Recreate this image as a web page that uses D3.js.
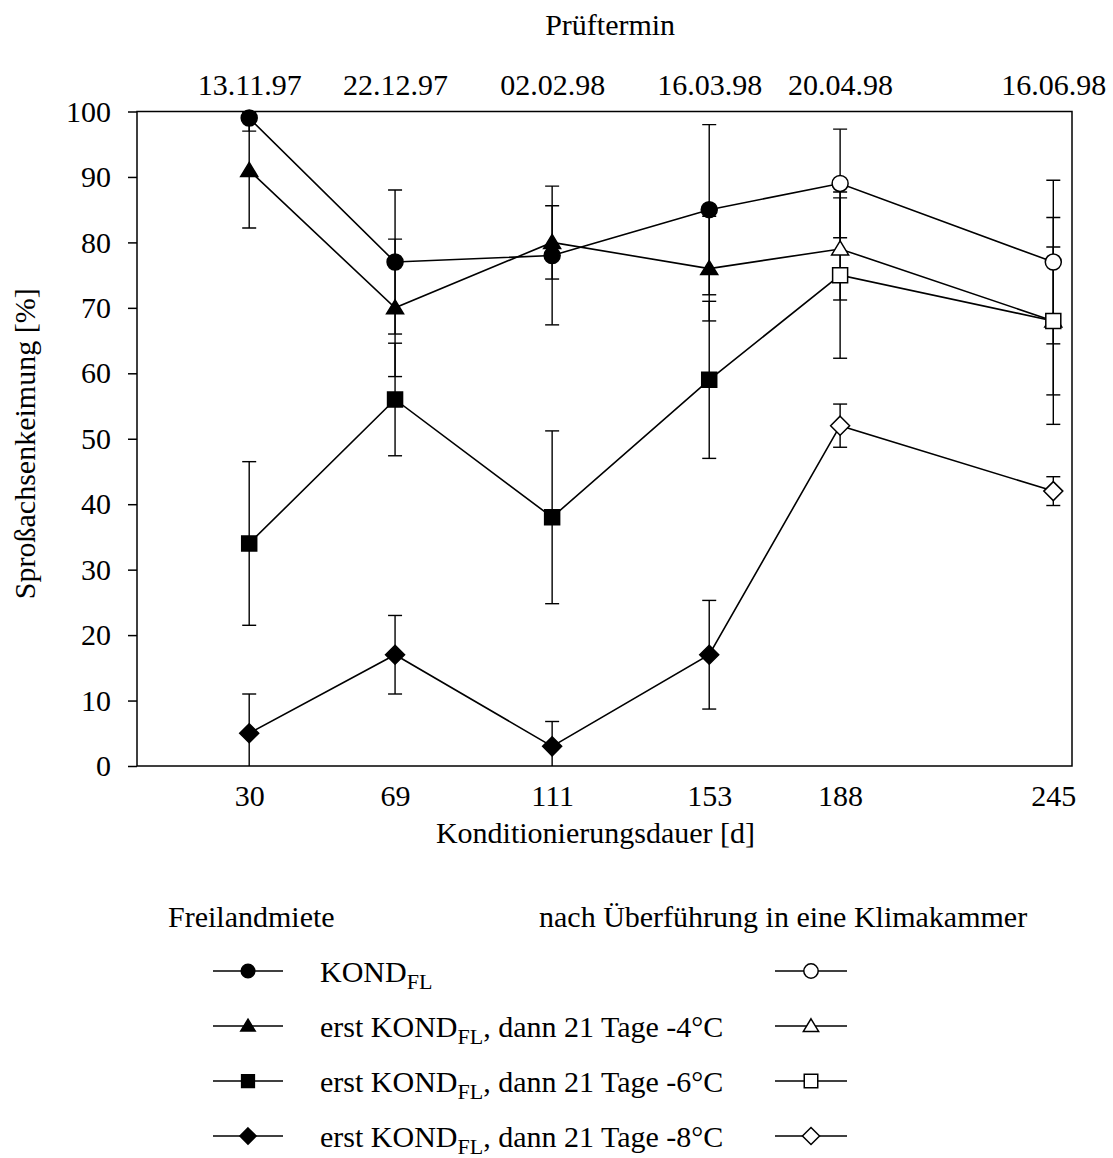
<!DOCTYPE html>
<html>
<head>
<meta charset="utf-8">
<script src="https://cdn.jsdelivr.net/npm/d3@7"></script>
<style>
  body { margin: 0; background: #fff; }
  svg text { font-family: "Liberation Serif", "Times New Roman", serif; fill: #000; }
</style>
</head>
<body>
<svg id="chart" width="1113" height="1158"></svg>
<script>
// Konditionierungsdauer [d] and matching Prüftermin
const days = [30, 69, 111, 153, 188, 245];
const dates = ["13.11.97", "22.12.97", "02.02.98", "16.03.98", "20.04.98", "16.06.98"];
// where the sample was kept at each date
const phase = ["Freiland", "Freiland", "Freiland", "Freiland", "Klimakammer", "Klimakammer"];

const kondFL = [99, 77, 78, 85, 89, 77];
const kondFLErr = [2, 11, 10.6, 13, 8.3, 12.5];
const minus4 = [91, 70, 80, 76, 79, 68];
const minus4Err = [8.8, 10.5, 5.6, 8, 7.8, 11.3];
const minus6 = [34, 56, 38, 59, 75, 68];
const minus6Err = [12.5, 8.6, 13.2, 12, 12.7, 15.8];
const minus8 = [5, 17, 3, 17, 52, 42];
const minus8Err = [6, 6, 3.8, 8.3, 3.3, 2.2];

const yTicks = [0, 10, 20, 30, 40, 50, 60, 70, 80, 90, 100];

const series = [
    { label: "KOND", shape: "circle", values: kondFL, err: kondFLErr, temp: null },
    { label: "erst KOND", shape: "triangle", values: minus4, err: minus4Err, temp: "-4°C" },
    { label: "erst KOND", shape: "square", values: minus6, err: minus6Err, temp: "-6°C" },
    { label: "erst KOND", shape: "diamond", values: minus8, err: minus8Err, temp: "-8°C" },
];

const svg = d3.select("#chart");
const margin = { top: 111.5, right: 41, bottom: 392, left: 137 };
const width = 1113 - margin.left - margin.right;
const height = 1158 - margin.top - margin.bottom;

const x = d3.scaleLinear().domain([0, 250]).range([0, width]);
const y = d3.scaleLinear().domain([0, 100]).range([height, 0]);

const g = svg.append("g").attr("transform", `translate(${margin.left},${margin.top})`);

g.append("clipPath").attr("id", "plotclip")
    .append("rect").attr("width", width).attr("height", height);

// marker path, centred at 0,0
const markerPath = (shape, s) => {
    const p = d3.path();
    if (shape === "circle") {
        p.arc(0, 0, 8 * s, 0, 2 * Math.PI);
    } else if (shape === "triangle") {
        p.moveTo(0, -8 * s); p.lineTo(8.5 * s, 6 * s); p.lineTo(-8.5 * s, 6 * s); p.closePath();
    } else if (shape === "square") {
        p.rect(-7.5 * s, -7.5 * s, 15 * s, 15 * s);
    } else {
        p.moveTo(0, -9.5 * s); p.lineTo(9.5 * s, 0); p.lineTo(0, 9.5 * s); p.lineTo(-9.5 * s, 0); p.closePath();
    }
    return p.toString();
};

// axes
const yAxis = g.append("g")
    .call(d3.axisLeft(y).tickValues(yTicks).tickSize(9).tickPadding(17))
    .attr("font-size", 30).attr("font-family", null);
const xAxis = g.append("g").attr("transform", `translate(0,${height})`)
    .call(d3.axisBottom(x).tickValues(days).tickSize(0).tickPadding(19))
    .attr("font-size", 30).attr("font-family", null);
const topAxis = g.append("g")
    .call(d3.axisTop(x).tickValues(days).tickSize(0).tickPadding(17)
        .tickFormat((d, i) => dates[i]))
    .attr("font-size", 30).attr("font-family", null);
[yAxis, xAxis, topAxis].forEach(a => {
    a.select(".domain").remove();
    a.selectAll("line").attr("stroke", "#000").attr("stroke-width", 1.5);
    a.selectAll("text").attr("fill", "#000");
});

// frame
g.append("rect").attr("width", width).attr("height", height)
    .attr("fill", "none").attr("stroke", "#000").attr("stroke-width", 1.5);

const plot = g.append("g").attr("clip-path", "url(#plotclip)");

// connecting lines
const line = d3.line().x((d, i) => x(days[i])).y(d => y(d));
series.forEach(s => {
    plot.append("path").attr("d", line(s.values))
        .attr("fill", "none").attr("stroke", "#000").attr("stroke-width", 1.6);
});

// error bars
series.forEach(s => {
    s.values.forEach((v, i) => {
        const cx = x(days[i]);
        const lo = y(v - s.err[i]), hi = y(v + s.err[i]);
        plot.append("line").attr("x1", cx).attr("x2", cx).attr("y1", lo).attr("y2", hi)
            .attr("stroke", "#000").attr("stroke-width", 1.4);
        [lo, hi].forEach(yy => {
            plot.append("line").attr("x1", cx - 7).attr("x2", cx + 7).attr("y1", yy).attr("y2", yy)
                .attr("stroke", "#000").attr("stroke-width", 1.4);
        });
    });
});

// markers: filled in the Freilandmiete, open after transfer to the Klimakammer
series.forEach(s => {
    s.values.forEach((v, i) => {
        const open = phase[i] === "Klimakammer";
        g.append("path").attr("d", markerPath(s.shape, 1))
            .attr("transform", `translate(${x(days[i])},${y(v)})`)
            .attr("fill", open ? "#fff" : "#000")
            .attr("stroke", "#000").attr("stroke-width", 1.5);
    });
});

// axis titles
svg.append("text").attr("x", margin.left + x(days[2]) + 58).attr("y", 35)
    .attr("text-anchor", "middle").attr("font-size", 30).text("Prüftermin");
svg.append("text").attr("x", margin.left + x(125) - 9).attr("y", 843)
    .attr("text-anchor", "middle").attr("font-size", 30).text("Konditionierungsdauer [d]");
svg.append("text").attr("transform", `translate(35,${margin.top + y(50) + 5}) rotate(-90)`)
    .attr("text-anchor", "middle").attr("font-size", 30).text("Sproßachsenkeimung [%]");

// legend
const legend = svg.append("g");
legend.append("text").attr("x", 168).attr("y", 927).attr("font-size", 30).text("Freilandmiete");
legend.append("text").attr("x", 539).attr("y", 927).attr("font-size", 30)
    .text("nach Überführung in eine Klimakammer");

series.forEach((s, i) => {
    const ry = 971 + i * 55;
    [{ x0: 213, x1: 283, open: false }, { x0: 775, x1: 847, open: true }].forEach(k => {
        legend.append("line").attr("x1", k.x0).attr("x2", k.x1).attr("y1", ry).attr("y2", ry)
            .attr("stroke", "#000").attr("stroke-width", 1.6);
        legend.append("path").attr("d", markerPath(s.shape, k.open ? 0.9 : 0.85))
            .attr("transform", `translate(${(k.x0 + k.x1) / 2},${ry})`)
            .attr("fill", k.open ? "#fff" : "#000")
            .attr("stroke", "#000").attr("stroke-width", 1.5);
    });
    const t = legend.append("text").attr("x", 320).attr("y", ry + 11).attr("font-size", 30);
    t.append("tspan").text(s.label);
    t.append("tspan").attr("font-size", 22).attr("dy", 7).text("FL");
    if (s.temp) {
        t.append("tspan").attr("dy", -7).text(`, dann 21 Tage ${s.temp}`);
    }
});
</script>
</body>
</html>
